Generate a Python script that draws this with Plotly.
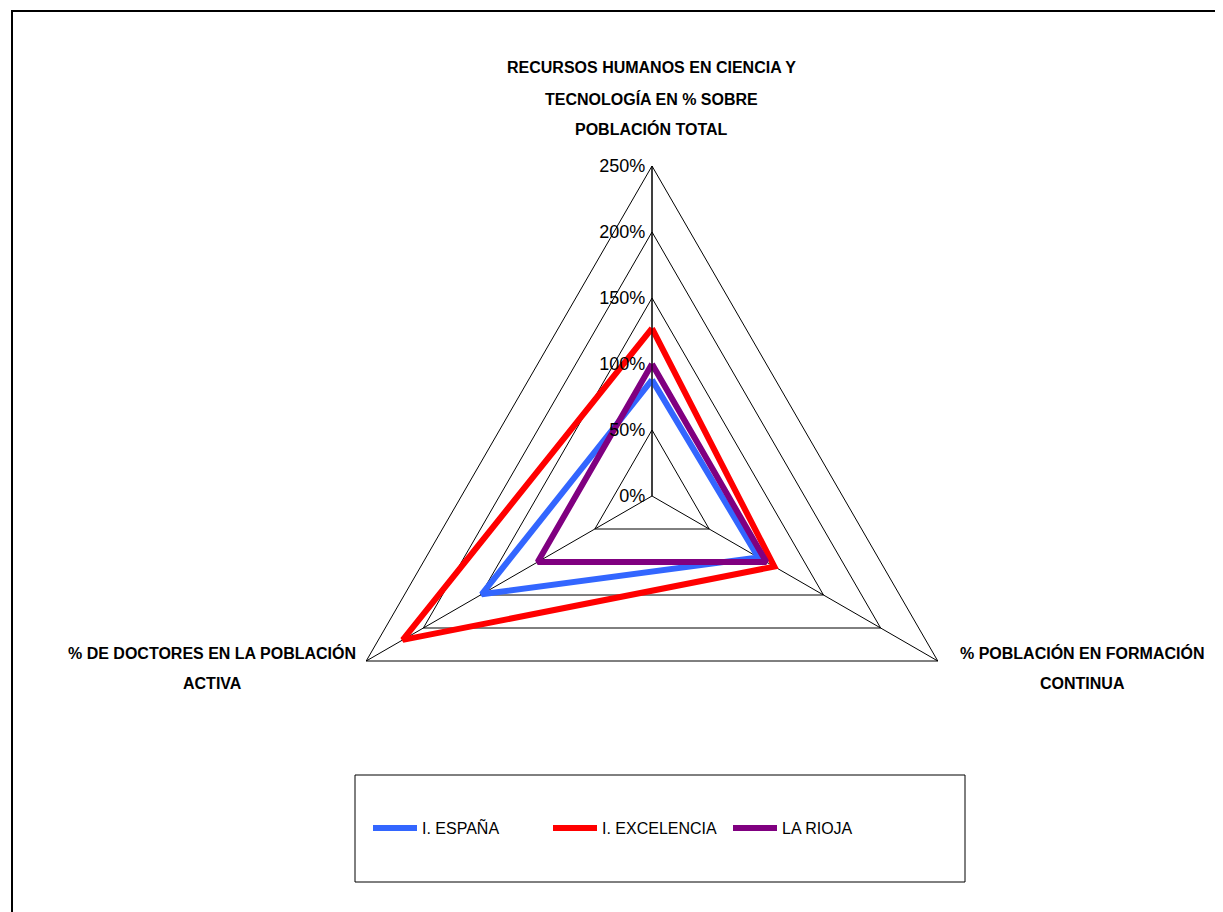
import plotly.graph_objects as go

categorias = [
    "RECURSOS HUMANOS EN CIENCIA Y TECNOLOGÍA EN % SOBRE POBLACIÓN TOTAL",
    "% POBLACIÓN EN FORMACIÓN CONTINUA",
    "% DE DOCTORES EN LA POBLACIÓN ACTIVA",
]
series = ["I. ESPAÑA", "I. EXCELENCIA", "LA RIOJA"]
espana = [88, 93, 149]
excelencia = [127, 107, 218]
la_rioja = [100, 100, 100]
colores = ["#3366FF", "#FF0000", "#800080"]

# etiquetas de las categorías partidas en líneas (como en el original)
lineas_arriba = ["RECURSOS HUMANOS EN CIENCIA Y", "TECNOLOGÍA EN % SOBRE", "POBLACIÓN TOTAL"]
lineas_derecha = ["% POBLACIÓN EN FORMACIÓN", "CONTINUA"]
lineas_izquierda = ["% DE DOCTORES EN LA POBLACIÓN", "ACTIVA"]

# la página deja 8px de margen en el body
OFF = 8
W, H = 1223 - OFF, 912 - OFF


def px(x):
    return (x - OFF) / W


def py(y):
    return 1 - (y - OFF) / H


fig = go.Figure()

for nombre, valores, color in zip(series, [espana, excelencia, la_rioja], colores):
    fig.add_trace(go.Scatterpolar(
        r=valores + valores[:1],
        theta=categorias + categorias[:1],
        mode="lines",
        name=nombre,
        line=dict(color=color, width=6),
    ))

cx, cy, rad = 652, 496, 330
fig.update_layout(
    width=W, height=H,
    margin=dict(l=0, r=0, t=0, b=0),
    paper_bgcolor="white",
    plot_bgcolor="white",
    font=dict(family="Liberation Sans, Arial", color="black"),
    polar=dict(
        domain=dict(x=[px(cx - rad), px(cx + rad)], y=[py(cy + rad), py(cy - rad)]),
        bgcolor="white",
        gridshape="linear",
        radialaxis=dict(
            range=[0, 250], dtick=50, ticksuffix="%",
            angle=90, tickangle=90, side="counterclockwise",
            showline=True, linecolor="black", linewidth=1,
            gridcolor="black", gridwidth=1,
            ticks="", tickfont=dict(size=18),
        ),
        angularaxis=dict(
            rotation=90, direction="clockwise",
            showticklabels=False, ticks="",
            linecolor="black", linewidth=1,
            gridcolor="black", gridwidth=1,
        ),
    ),
    showlegend=True,
    legend=dict(
        orientation="h", x=px(368), xanchor="left", y=py(828), yanchor="middle",
        font=dict(size=16), itemwidth=44, entrywidth=121, bgcolor="rgba(0,0,0,0)",
    ),
)

# caja de la leyenda y marco exterior
fig.add_shape(type="rect", xref="paper", yref="paper",
              x0=px(355), x1=px(965), y0=py(882), y1=py(775),
              line=dict(color="black", width=1))
fig.add_shape(type="rect", xref="paper", yref="paper",
              x0=px(12), x1=px(1221), y0=-0.02, y1=py(11),
              line=dict(color="black", width=2))

fuente_cat = dict(size=16, color="black", family="Liberation Sans, Arial", weight="bold")
for lineas, xc in [(lineas_arriba, 651), (lineas_izquierda, 212), (lineas_derecha, 1082)]:
    y0 = 68 if lineas is lineas_arriba else 653
    for i, txt in enumerate(lineas):
        fig.add_annotation(x=px(xc), y=py(y0 + 30.5 * i), xref="paper", yref="paper",
                           xanchor="center", yanchor="middle",
                           text=txt, showarrow=False, font=fuente_cat)

fig.write_html("out.html")
